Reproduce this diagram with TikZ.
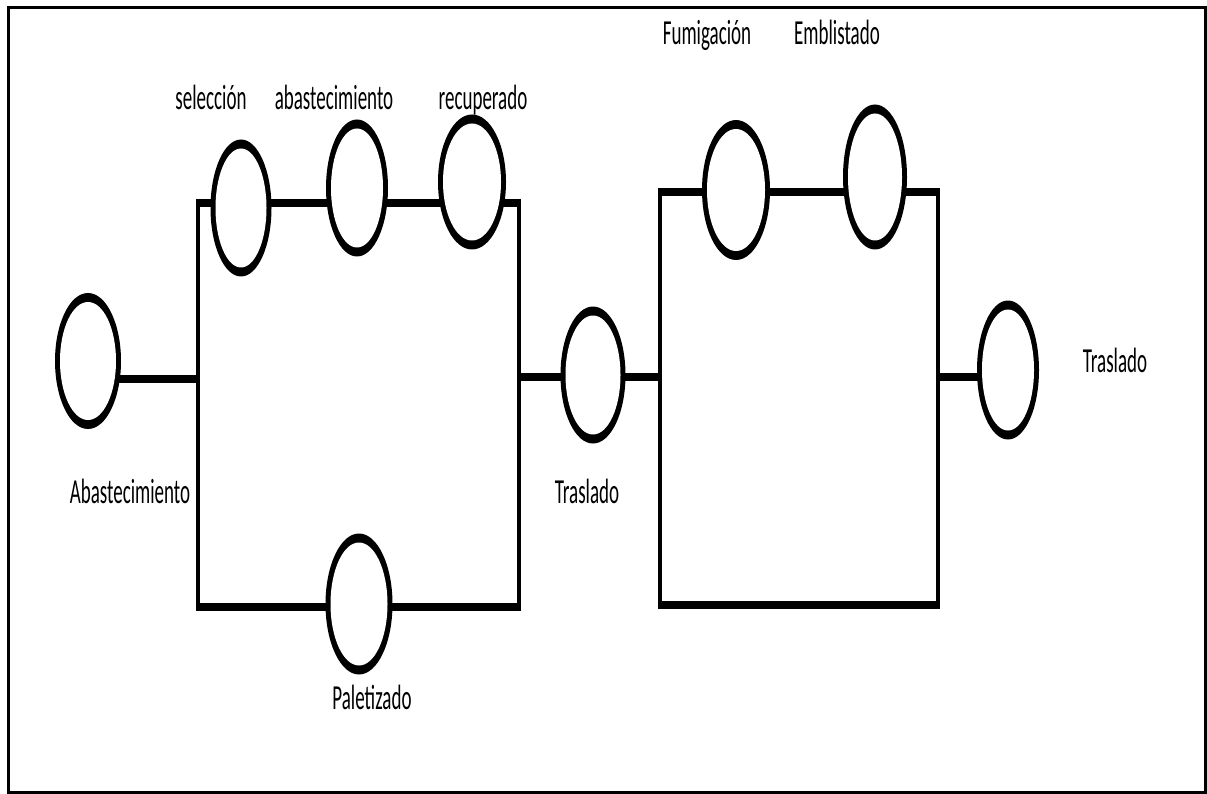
\documentclass[tikz,border=0pt]{standalone}
\usepackage{graphicx}
\usepackage{fontspec}
\setmainfont{Carlito}
\usetikzlibrary{shapes.geometric}
\pgfdeclarelayer{bg}
\pgfsetlayers{bg,main}
\tikzset{
  ring/.style 2 args={ellipse, draw=none, fill=black, inner sep=0pt,
    minimum width=#1, minimum height=#2,
    path picture={\fill[white] (path picture bounding box.center)
      ellipse [x radius={#1*0.5pt-5pt}, y radius={#2*0.5pt-9pt}];}},
  hline/.style={line width=8.5pt},
  vline/.style={line width=4.5pt},
  lbl/.style={anchor=base, inner sep=0pt, font=\fontsize{19}{22}\selectfont},
  frame/.style={line width=3pt}
}
\newcommand{\tall}[1]{\scalebox{1}[1.85]{#1}}
\begin{document}
\begin{tikzpicture}[x=1pt, y=-1pt]
\useasboundingbox (0,0) rectangle (1207,794);
\draw[frame] (8,8) rectangle (1205,792);

% process stations
\node[ring={66}{136}] (abas) at (88,361) {};
\node[ring={61}{137}] (sel)  at (241,208) {};
\node[ring={62}{137}] (abt)  at (357,188) {};
\node[ring={68}{135}] (rec)  at (472,182) {};
\node[ring={67}{141}] (pal)  at (359,604) {};
\node[ring={65}{137}] (tr1)  at (593,375) {};
\node[ring={68}{140}] (fum)  at (736,190) {};
\node[ring={64}{145}] (emb)  at (875,177) {};
\node[ring={62}{139}] (tr2)  at (1008,370) {};

% corners of the two parallel blocks and junction points
\coordinate (b1nw) at (198,203);
\coordinate (b1ne) at (519,203);
\coordinate (b1sw) at (198,607);
\coordinate (b1se) at (519,607);
\coordinate (b2nw) at (660,192);
\coordinate (b2ne) at (938,192);
\coordinate (b2sw) at (660,605);
\coordinate (b2se) at (938,605);
\coordinate (j1) at (198,379);
\coordinate (j2) at (519,377);
\coordinate (j3) at (660,377);
\coordinate (j4) at (938,377);

\begin{pgfonlayer}{bg}
  % first block
  \draw[hline] ([xshift=-2.25pt]b1nw) -- ([xshift=2.25pt]b1ne);
  \draw[hline] ([xshift=-2.25pt]b1sw) -- ([xshift=2.25pt]b1se);
  \draw[vline] ([yshift=4pt]b1nw) -- ([yshift=-4pt]b1sw);
  \draw[vline] ([yshift=4pt]b1ne) -- ([yshift=-4pt]b1se);
  % second block
  \draw[hline] ([xshift=-2.25pt]b2nw) -- ([xshift=2.25pt]b2ne);
  \draw[hline] ([xshift=-2.25pt]b2sw) -- ([xshift=2.25pt]b2se);
  \draw[vline] ([yshift=4pt]b2nw) -- ([yshift=-4pt]b2sw);
  \draw[vline] ([yshift=4pt]b2ne) -- ([yshift=-4pt]b2se);
  % series links
  \draw[hline] (abas.center |- j1) -- (j1);
  \draw[hline] (j2) -- (tr1.center |- j2);
  \draw[hline] (tr1.center |- j3) -- (j3);
  \draw[hline] (j4) -- (tr2.center |- j4);
\end{pgfonlayer}

% labels
\node[lbl] (l-sel)  at (211,110)  {\tall{selección}};
\node[lbl] (l-abt)  at (334,110)  {\tall{abastecimiento}};
\node[lbl] (l-rec)  at (483,110)  {\tall{recuperado}};
\node[lbl] (l-fum)  at (707,45)   {\tall{Fumigación}};
\node[lbl] (l-emb)  at (837,45)   {\tall{Emblistado}};
\node[lbl] (l-abas) at (130,503)  {\tall{Abastecimiento}};
\node[lbl] (l-tr1)  at (587,503)  {\tall{Traslado}};
\node[lbl] (l-tr2)  at (1115,372) {\tall{Traslado}};
\node[lbl] (l-pal)  at (372,709)  {\tall{Paletizado}};
\end{tikzpicture}
\end{document}
